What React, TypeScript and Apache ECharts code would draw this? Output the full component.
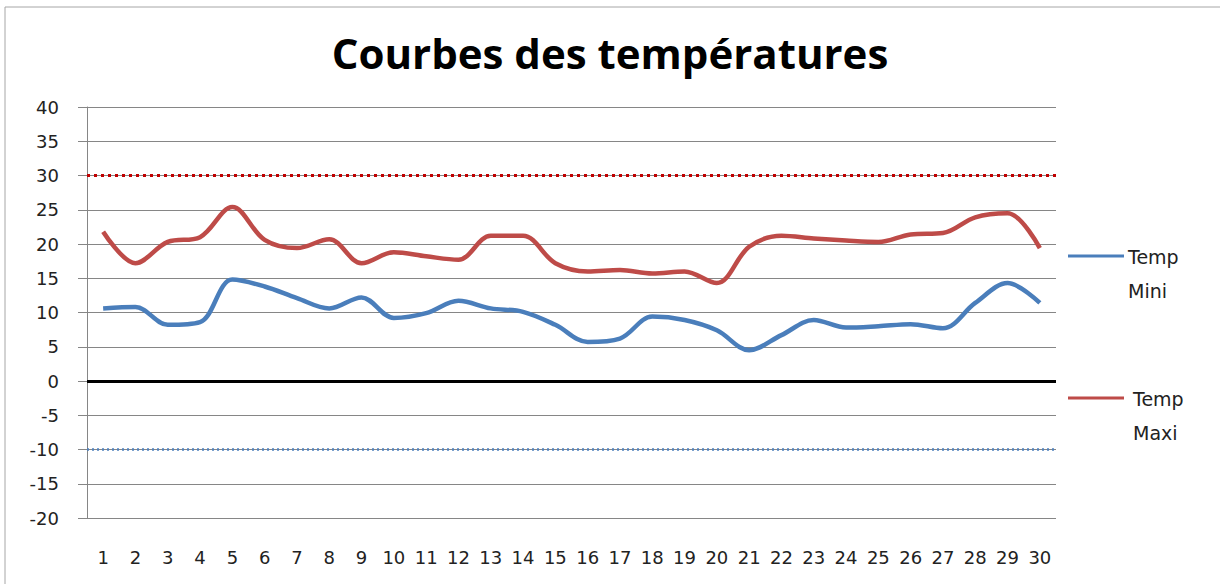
import React, { useEffect, useRef } from "react";
import * as echarts from "echarts";

const days: string[] = ["1","2","3","4","5","6","7","8","9","10","11","12","13","14","15","16","17","18","19","20","21","22","23","24","25","26","27","28","29","30"];
const tempMini: number[] = [10.6,10.8,8.2,8.6,14.8,13.8,12.1,10.6,12.2,9.2,9.9,11.7,10.6,10.1,8.2,5.7,6.2,9.4,8.9,7.4,4.5,6.7,8.9,7.8,8.0,8.3,7.7,11.4,14.3,11.4];
const tempMaxi: number[] = [21.8,17.2,20.3,21.0,25.4,20.6,19.4,20.7,17.2,18.8,18.2,17.7,21.2,21.2,17.2,16.0,16.2,15.7,16.0,14.3,19.6,21.2,20.8,20.5,20.3,21.4,21.6,23.9,24.5,19.4];
const yTicks = { min: -20, max: 40, interval: 5 };
const thresholdHigh = 30;
const thresholdLow = -10;
const zeroLine = 0;
const seriesNames = ["Temp Mini", "Temp Maxi"];

export default function App() {
  const ref = useRef<HTMLDivElement>(null);
  useEffect(() => {
    if (!ref.current) return;
    const chart = echarts.init(ref.current, null, { renderer: "svg" });
    const labelFont = "DejaVu Sans";
    const legendFont = "19px 'DejaVu Sans'";
    chart.setOption({
      animation: false,
      backgroundColor: "#ffffff",
      title: {
        text: "Courbes des températures",
        left: "center",
        top: 26,
        textStyle: { fontFamily: "Open Sans", fontWeight: "bold", fontSize: 42, color: "#000" },
      },
      graphic: [
        { type: "rect", shape: { x: 5, y: 7, width: 1230, height: 600 }, style: { fill: "none", stroke: "#a6a6a6", lineWidth: 1 } },
        { type: "line", shape: { x1: 1068, y1: 256, x2: 1124, y2: 256 }, style: { stroke: "#4A7EBB", lineWidth: 3 } },
        { type: "text", x: 1128, y: 257, style: { text: "Temp", font: legendFont, fill: "#222", verticalAlign: "middle" } },
        { type: "text", x: 1128, y: 291, style: { text: "Mini", font: legendFont, fill: "#222", verticalAlign: "middle" } },
        { type: "line", shape: { x1: 1068, y1: 398, x2: 1124, y2: 398 }, style: { stroke: "#BE4B48", lineWidth: 3 } },
        { type: "text", x: 1133, y: 399, style: { text: "Temp", font: legendFont, fill: "#222", verticalAlign: "middle" } },
        { type: "text", x: 1133, y: 433, style: { text: "Maxi", font: legendFont, fill: "#222", verticalAlign: "middle" } },
      ],
      grid: { left: 87, right: 164, top: 107, bottom: 66 },
      xAxis: {
        type: "category",
        data: days,
        boundaryGap: true,
        axisLine: { show: false },
        axisTick: { show: false },
        axisLabel: { interval: 0, margin: 30, fontFamily: labelFont, fontSize: 18, color: "#222" },
        splitLine: { show: false },
      },
      yAxis: {
        type: "value",
        min: yTicks.min,
        max: yTicks.max,
        interval: yTicks.interval,
        axisLine: { show: true, lineStyle: { color: "#868686", width: 1 } },
        axisTick: { show: true, length: 9, lineStyle: { color: "#868686" } },
        axisLabel: { margin: 28, fontFamily: labelFont, fontSize: 18, color: "#222" },
        splitLine: { show: true, lineStyle: { color: "#868686", width: 1 } },
      },
      series: [
        {
          name: seriesNames[0],
          type: "line",
          data: tempMini,
          smooth: 0.35,
          symbol: "none",
          lineStyle: { color: "#4A7EBB", width: 4.5 },
          z: 3,
          markLine: {
            silent: true,
            symbol: "none",
            label: { show: false },
            data: [
              { yAxis: thresholdLow, lineStyle: { color: "#4F81BD", width: 2.5, type: [2, 3] } },
              { yAxis: zeroLine, lineStyle: { color: "#000000", width: 3, type: "solid" } },
            ],
          },
        },
        {
          name: seriesNames[1],
          type: "line",
          data: tempMaxi,
          smooth: 0.35,
          symbol: "none",
          lineStyle: { color: "#BE4B48", width: 4.5 },
          z: 3,
          markLine: {
            silent: true,
            symbol: "none",
            label: { show: false },
            data: [
              { yAxis: thresholdHigh, lineStyle: { color: "#C00000", width: 3, type: [3, 4] } },
            ],
          },
        },
      ],
    });
    return () => chart.dispose();
  }, []);
  return <div ref={ref} style={{ position: "fixed", left: 0, top: 0, width: 1220, height: 584 }} />;
}
